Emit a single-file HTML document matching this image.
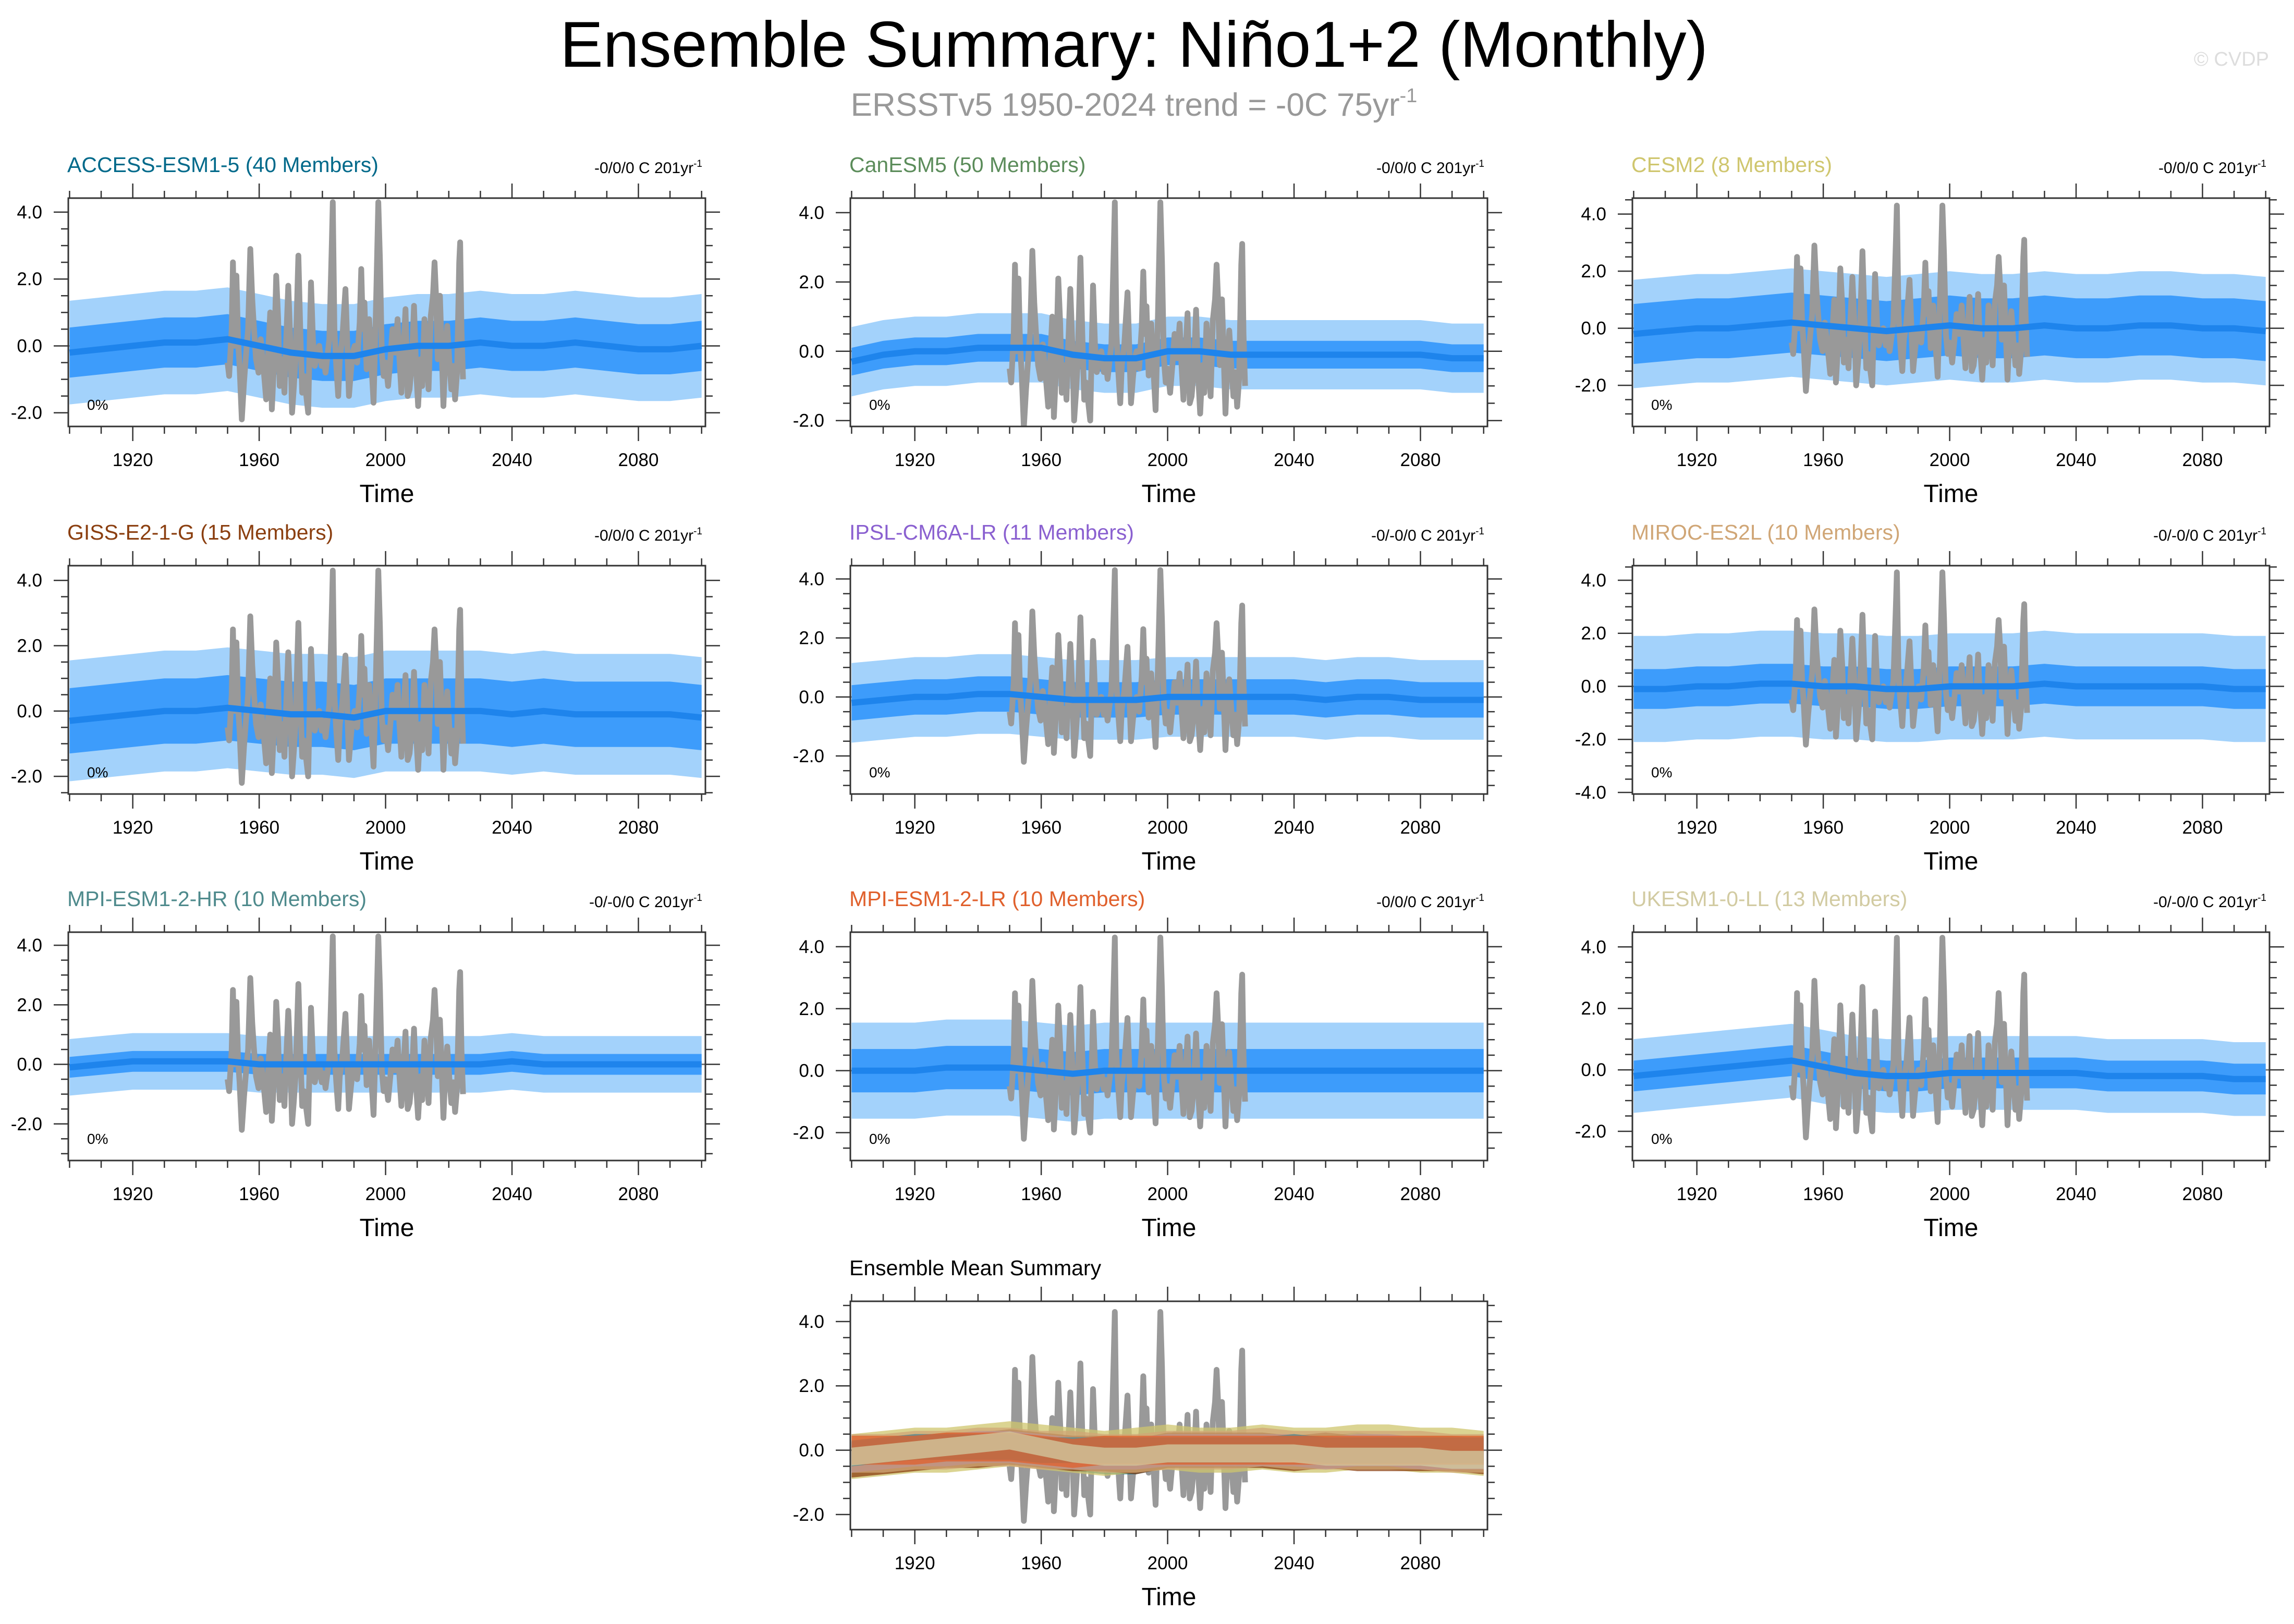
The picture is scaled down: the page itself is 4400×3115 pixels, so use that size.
<!DOCTYPE html>
<html><head><meta charset="utf-8">
<style>
html,body{margin:0;padding:0;background:#fff;}
svg{display:block;font-family:"Liberation Sans",sans-serif;}
</style></head>
<body>
<svg id="chart" width="4400" height="3115" viewBox="0 0 4400 3115" xmlns="http://www.w3.org/2000/svg">
<text x="2175" y="128" font-size="124" text-anchor="middle" fill="#000">Ensemble Summary: Niño1+2 (Monthly)</text>
<text x="2175" y="222" font-size="62" text-anchor="middle" fill="#999">ERSSTv5 1950-2024 trend = -0C 75yr<tspan dy="-26" font-size="38">-1</tspan></text>
<text x="4352" y="126" font-size="38" text-anchor="end" fill="#ddd">© CVDP</text>
<g id="panels"></g>
</svg>
<script>
// ---- data ----
const modelNames = ["ACCESS-ESM1-5 (40 Members)","CanESM5 (50 Members)","CESM2 (8 Members)","GISS-E2-1-G (15 Members)","IPSL-CM6A-LR (11 Members)","MIROC-ES2L (10 Members)","MPI-ESM1-2-HR (10 Members)","MPI-ESM1-2-LR (10 Members)","UKESM1-0-LL (13 Members)"];
const modelColors = ["#00698a","#5b8c5a","#cfc66e","#8b3f10","#8a60d0","#d0a676","#4e8a8c","#e0602c","#d2cba2"];
const trendLabels = ["-0/0/0 C 201yr","-0/0/0 C 201yr","-0/0/0 C 201yr","-0/0/0 C 201yr","-0/-0/0 C 201yr","-0/-0/0 C 201yr","-0/-0/0 C 201yr","-0/0/0 C 201yr","-0/-0/0 C 201yr"];
const yMins = [-2.41,-2.17,-3.44,-2.54,-3.29,-4.06,-3.23,-2.9,-2.95];
const yMaxs = [4.42,4.42,4.56,4.45,4.45,4.55,4.44,4.47,4.48];
const ensYMin = -2.47, ensYMax = 4.63;
// decadal 1900..2100 ensemble means
const meanVals = [
 [-0.2,-0.1,0.0,0.1,0.1,0.2,0.0,-0.2,-0.3,-0.3,-0.1,0.0,0.0,0.1,0.0,0.0,0.1,0.0,-0.1,-0.1,0.0],
 [-0.3,-0.1,0.0,0.0,0.1,0.1,0.1,-0.1,-0.2,-0.2,0.0,0.0,-0.1,-0.1,-0.1,-0.1,-0.1,-0.1,-0.1,-0.2,-0.2],
 [-0.2,-0.1,0.0,0.0,0.1,0.2,0.1,0.0,-0.1,0.0,0.1,0.0,0.0,0.1,0.0,0.0,0.1,0.1,0.0,0.0,-0.1],
 [-0.3,-0.2,-0.1,0.0,0.0,0.1,0.0,-0.1,-0.1,-0.2,0.0,0.0,0.0,0.0,-0.1,0.0,-0.1,-0.1,-0.1,-0.1,-0.2],
 [-0.2,-0.1,0.0,0.0,0.1,0.1,0.0,-0.1,-0.1,-0.1,0.0,0.0,0.0,0.0,0.0,-0.1,0.0,0.0,-0.1,-0.1,-0.1],
 [-0.1,-0.1,0.0,0.0,0.1,0.1,0.0,0.0,-0.1,-0.1,0.0,0.0,0.0,0.1,0.0,0.0,0.0,0.0,0.0,-0.1,-0.1],
 [-0.1,0.0,0.1,0.1,0.1,0.1,0.0,0.0,0.0,0.0,0.0,0.0,0.0,0.0,0.1,0.0,0.0,0.0,0.0,0.0,0.0],
 [0.0,0.0,0.0,0.1,0.1,0.1,0.0,-0.1,0.0,0.0,0.0,0.0,0.0,0.0,0.0,0.0,0.0,0.0,0.0,0.0,0.0],
 [-0.2,-0.1,0.0,0.1,0.2,0.3,0.1,-0.1,-0.2,-0.2,-0.1,-0.1,-0.1,-0.1,-0.1,-0.2,-0.2,-0.2,-0.2,-0.3,-0.3]
];
// half-widths of ensemble spread (outer = min/max, inner = member core)
const outerSpread = [1.55,1.0,1.9,1.85,1.35,2.0,0.95,1.55,1.2];
const innerSpread = [0.75,0.4,1.05,1.0,0.6,0.75,0.35,0.7,0.5];
const ensMeanAmp = [0.45,0.35,0.7,0.55,0.5,0.6,0.4,0.45,0.28];
// ERSSTv5 observations (approximate turning points)
const obsYears = [1950.0,1950.5,1951.3,1951.7,1952.2,1952.8,1953.3,1953.8,1954.5,1955.2,1955.8,1956.5,1957.2,1957.8,1958.3,1959.0,1959.8,1960.5,1961.5,1962.2,1962.8,1963.5,1964.0,1964.7,1965.4,1966.0,1966.5,1967.3,1968.0,1968.5,1969.2,1969.8,1970.4,1971.0,1971.5,1972.4,1973.0,1973.6,1974.2,1974.8,1975.5,1976.4,1977.0,1977.6,1978.2,1979.0,1979.8,1980.4,1981.0,1982.2,1983.0,1983.3,1983.8,1984.4,1985.0,1985.5,1986.3,1987.3,1987.8,1988.4,1989.0,1989.6,1990.2,1991.0,1991.8,1992.3,1992.8,1993.3,1994.0,1994.8,1995.5,1996.2,1996.9,1997.7,1998.2,1998.8,1999.4,2000.0,2000.8,2001.5,2002.2,2003.0,2003.8,2004.4,2005.0,2005.6,2006.3,2007.0,2007.6,2008.3,2009.0,2009.6,2010.3,2011.0,2011.6,2012.3,2013.0,2013.6,2014.3,2015.0,2015.5,2016.0,2016.5,2017.2,2017.7,2018.3,2018.9,2019.5,2020.2,2020.8,2021.4,2022.0,2022.6,2023.3,2023.6,2024.0,2024.5];
const obsVals = [-0.5,-0.9,0.5,2.5,0.0,2.1,0.2,-0.6,-2.2,-1.1,-0.3,0.5,2.9,1.4,0.6,-0.4,-0.8,0.2,-0.8,-1.6,-0.3,1.0,-1.9,-0.5,2.1,0.8,-1.2,-0.4,-1.4,0.0,1.8,0.3,-2.0,-1.2,-0.4,2.7,0.5,-1.4,-0.9,-1.4,-2.0,1.9,0.2,-0.6,-0.3,0.0,-0.6,-0.3,-0.8,0.2,3.1,4.3,0.5,-0.6,-1.5,-0.4,0.2,1.7,0.3,-1.5,-0.8,-0.2,0.0,-0.5,0.7,2.3,0.5,1.3,-0.7,0.8,-0.5,-1.7,0.9,4.3,2.6,-0.2,-0.9,-0.5,-1.2,-0.4,0.5,-0.2,0.8,-0.4,-1.4,-0.2,1.1,-1.5,-1.3,-0.5,1.2,-0.6,-1.8,-0.4,-1.2,0.8,-0.2,-1.3,0.9,1.5,2.5,1.4,-0.4,1.5,0.0,-1.8,-0.3,0.6,-0.5,-1.3,-0.6,-1.6,-0.8,2.5,3.1,0.5,-1.0];
const xTickYears = [1920,1960,2000,2040,2080];
const yTickVals = [-4,-2,0,2,4];

// ---- drawing ----
const NS = "http://www.w3.org/2000/svg";
const root = document.getElementById("panels");
const colX = [131,1631,3131];
const rowY = [380,1085,1788,2496];
const PW = 1222, PH = 438;
const X0 = 1899.6, X1 = 2101.2;
function mk(tag, attrs, parent){ const e=document.createElementNS(NS,tag); for(const k in attrs) e.setAttribute(k,attrs[k]); (parent||root).appendChild(e); return e; }
function decYears(){ const a=[]; for(let i=0;i<21;i++) a.push(1900+i*10); return a; }
const decades = decYears();

function drawPanel(px, py, ymin, ymax, title, titleColor, trend, drawContent, idx){
  const g = mk("g",{});
  
  
  const sx = y => px + (y - X0) / (X1 - X0) * PW;
  const sy = v => py + (ymax - v) / (ymax - ymin) * PH;
  const clipId = "clip" + idx;
  const cp = mk("clipPath",{id:clipId},g); mk("rect",{x:px,y:py,width:PW,height:PH},cp);
  const content = mk("g",{"clip-path":"url(#"+clipId+")"},g);
  
  
  mk("line",{x1:px,x2:px+PW,y1:sy(0),y2:sy(0),stroke:"#777","stroke-width":3},content);
  drawContent(content, sx, sy);
  const fr = mk("rect",{x:px,y:py,width:PW,height:PH,fill:"none",stroke:"#333","stroke-width":3},g);
  
  
  for(let yr=1900; yr<=2100; yr+=10){
    const x = sx(yr), L = (yr%40===0 && yr!==1900 && yr!==2100) ? 28 : 14;
    mk("line",{x1:x,x2:x,y1:py,y2:py-L,stroke:"#333","stroke-width":2.5},g);
    mk("line",{x1:x,x2:x,y1:py+PH,y2:py+PH+L,stroke:"#333","stroke-width":2.5},g);
  }
  xTickYears.forEach(yr=>{
    const t = mk("text",{x:sx(yr),y:py+PH+76,"font-size":35,"text-anchor":"middle",fill:"#000"},g);
    t.textContent = yr;
    
    
  });
  for(let v=Math.ceil(ymin*2)/2; v<=ymax; v+=0.5){
    const y = sy(v), major = Math.abs(v/2 - Math.round(v/2))<1e-6, L = major?28:14;
    mk("line",{x1:px,x2:px-L,y1:y,y2:y,stroke:"#333","stroke-width":2.5},g);
    mk("line",{x1:px+PW,x2:px+PW+L,y1:y,y2:y,stroke:"#333","stroke-width":2.5},g);
  }
  yTickVals.forEach(v=>{
    if(v<ymin||v>ymax) return;
    const t = mk("text",{x:px-50,y:sy(v)+12,"font-size":35,"text-anchor":"end",fill:"#000"},g);
    t.textContent = v.toFixed(1);
    
    
  });
  const xt = mk("text",{x:px+PW/2,y:py+PH+145,"font-size":48,"text-anchor":"middle",fill:"#000"},g);
  xt.textContent = "Time";
  
  
  const tt = mk("text",{x:px-2,y:py-50,"font-size":41,fill:titleColor},g);
  tt.textContent = title;
  
  
  if(trend){
    const tr = mk("text",{x:px+PW-6,y:py-48,"font-size":30,"text-anchor":"end",fill:"#000"},g);
    tr.textContent = trend;
    const sup = mk("tspan",{dy:-12,"font-size":19},tr); sup.textContent="-1";
    
    
    const pc = mk("text",{x:px+36,y:py+PH-32,"font-size":28,fill:"#000"},g);
    pc.textContent = "0%";
    
    
  }
}

function bandPath(sx, sy, mean, amp){
  let d = "";
  decades.forEach((yr,i)=>{ d += (i?"L":"M") + sx(yr).toFixed(1) + "," + sy(mean[i]+amp).toFixed(1); });
  for(let i=decades.length-1;i>=0;i--){ d += "L" + sx(decades[i]).toFixed(1) + "," + sy(mean[i]-amp).toFixed(1); }
  return d + "Z";
}
function linePath(sx, sy, xs, ys){
  return xs.map((x,i)=>(i?"L":"M")+sx(x).toFixed(1)+","+sy(ys[i]).toFixed(1)).join("");
}
function drawObs(c, sx, sy){
  const o = mk("path",{d:linePath(sx,sy,obsYears,obsVals),fill:"none",stroke:"#999","stroke-width":11,"stroke-linejoin":"round"},c);
  
  
}

modelNames.forEach((name,i)=>{
  const px = colX[i%3], py = rowY[Math.floor(i/3)];
  drawPanel(px, py, yMins[i], yMaxs[i], name, modelColors[i], trendLabels[i], (c,sx,sy)=>{
    const ob = mk("path",{d:bandPath(sx,sy,meanVals[i],outerSpread[i]),fill:"#a3d2fb"},c);
    
    
    const ib = mk("path",{d:bandPath(sx,sy,meanVals[i],innerSpread[i]),fill:"#3d9cfb"},c);
    
    
    drawObs(c,sx,sy);
    const ml = mk("path",{d:linePath(sx,sy,decades,meanVals[i]),fill:"none",stroke:"#1e84ec","stroke-width":12},c);
    
    
  }, i);
});

drawPanel(colX[1], rowY[3], ensYMin, ensYMax, "Ensemble Mean Summary", "#000", null, (c,sx,sy)=>{
  drawObs(c,sx,sy);
  modelNames.forEach((name,i)=>{
    const b = mk("path",{d:bandPath(sx,sy,meanVals[i],ensMeanAmp[i]),fill:modelColors[i],opacity:0.75},c);
    
    
  });
}, 9);
</script>
</body></html>
